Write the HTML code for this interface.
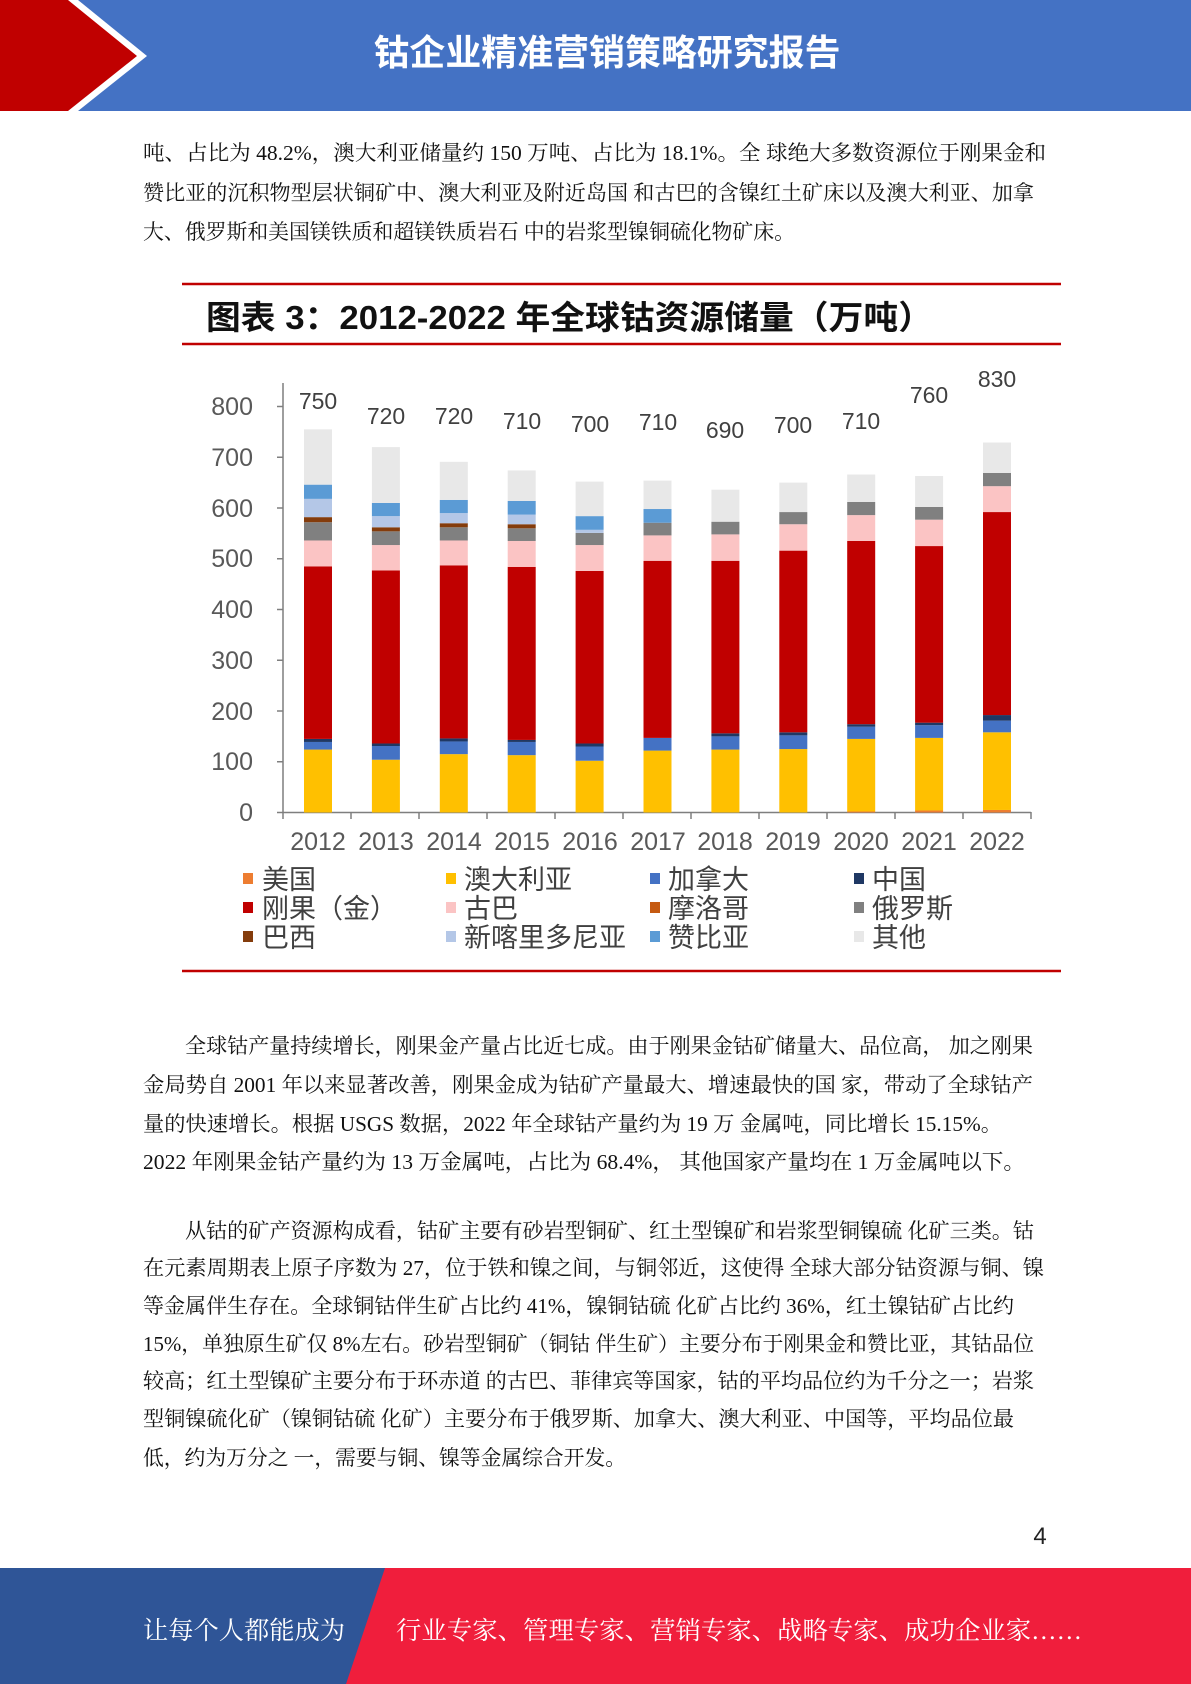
<!DOCTYPE html>
<html><head><meta charset="utf-8"><style>
html,body{margin:0;padding:0;background:#fff}
svg{display:block}
.b{font-family:"Liberation Serif","Noto Serif CJK SC",serif;font-size:21px;fill:#111}
.t{font-family:"Liberation Sans","Noto Sans CJK SC",sans-serif;font-size:25px;fill:#595959}
.l{font-family:"Liberation Sans","Noto Sans CJK SC",sans-serif;font-size:27px;fill:#404040}
.f{font-family:"Liberation Serif","Noto Serif CJK SC",serif;font-size:25px;fill:#fff}
</style></head><body>
<svg width="1191" height="1684" viewBox="0 0 1191 1684" xmlns="http://www.w3.org/2000/svg">
<!-- header -->
<rect x="0" y="0" width="1191" height="111" fill="#4472C4"/>
<polygon points="0,0 78,0 147,56 78,111 0,111" fill="#fff"/>
<polygon points="0,0 68,0 137,56 68,111 0,111" fill="#C00000"/>
<text x="607" y="65" text-anchor="middle" font-family="Liberation Sans, Noto Sans CJK SC, sans-serif" font-weight="bold" font-size="36" fill="#fff" textLength="467" lengthAdjust="spacingAndGlyphs">钴企业精准营销策略研究报告</text>
<!-- para 0 -->
<text class="b" x="143" y="160" textLength="903" lengthAdjust="spacingAndGlyphs">吨、占比为 48.2%，澳大利亚储量约 150 万吨、占比为 18.1%。全 球绝大多数资源位于刚果金和</text>
<text class="b" x="143" y="200" textLength="891" lengthAdjust="spacingAndGlyphs">赞比亚的沉积物型层状铜矿中、澳大利亚及附近岛国 和古巴的含镍红土矿床以及澳大利亚、加拿</text>
<text class="b" x="143" y="239" textLength="652" lengthAdjust="spacingAndGlyphs">大、俄罗斯和美国镁铁质和超镁铁质岩石 中的岩浆型镍铜硫化物矿床。</text>
<!-- chart frame -->
<line x1="182" y1="284" x2="1061" y2="284" stroke="#C00000" stroke-width="2.5"/>
<text x="206" y="329" font-family="Liberation Sans, Noto Sans CJK SC, sans-serif" font-weight="bold" font-size="33" fill="#111" textLength="727" lengthAdjust="spacingAndGlyphs">图表 3：2012-2022 年全球钴资源储量（万吨）</text>
<line x1="182" y1="344" x2="1061" y2="344" stroke="#C00000" stroke-width="2.5"/>
<line x1="182" y1="971" x2="1061" y2="971" stroke="#C00000" stroke-width="2.5"/>
<!-- axes -->
<g stroke="#7f7f7f" stroke-width="1.5">
<line x1="283" y1="383" x2="283" y2="813"/>
<line x1="283" y1="812.5" x2="1031" y2="812.5"/>
<line x1="277" y1="812.5" x2="283" y2="812.5"/><line x1="277" y1="761.75" x2="283" y2="761.75"/><line x1="277" y1="711" x2="283" y2="711"/><line x1="277" y1="660.25" x2="283" y2="660.25"/><line x1="277" y1="609.5" x2="283" y2="609.5"/><line x1="277" y1="558.75" x2="283" y2="558.75"/><line x1="277" y1="508" x2="283" y2="508"/><line x1="277" y1="457.25" x2="283" y2="457.25"/><line x1="277" y1="406.5" x2="283" y2="406.5"/>
<line x1="283" y1="812" x2="283" y2="819"/><line x1="351" y1="812" x2="351" y2="819"/><line x1="419" y1="812" x2="419" y2="819"/><line x1="487" y1="812" x2="487" y2="819"/><line x1="555" y1="812" x2="555" y2="819"/><line x1="623" y1="812" x2="623" y2="819"/><line x1="691" y1="812" x2="691" y2="819"/><line x1="759" y1="812" x2="759" y2="819"/><line x1="827" y1="812" x2="827" y2="819"/><line x1="895" y1="812" x2="895" y2="819"/><line x1="963" y1="812" x2="963" y2="819"/><line x1="1031" y1="812" x2="1031" y2="819"/>
</g>
<g class="t" text-anchor="end">
<text x="253" y="821">0</text><text x="253" y="770">100</text><text x="253" y="720">200</text><text x="253" y="669">300</text><text x="253" y="618">400</text><text x="253" y="567">500</text><text x="253" y="517">600</text><text x="253" y="466">700</text><text x="253" y="415">800</text>
</g>
<g class="t" text-anchor="middle">
<text x="318" y="850">2012</text><text x="386" y="850">2013</text><text x="454" y="850">2014</text><text x="522" y="850">2015</text><text x="590" y="850">2016</text><text x="658" y="850">2017</text><text x="725" y="850">2018</text><text x="793" y="850">2019</text><text x="861" y="850">2020</text><text x="929" y="850">2021</text><text x="997" y="850">2022</text>
</g>
<g class="t" text-anchor="middle" style="font-size:23px;fill:#404040">
<text x="318" y="409">750</text><text x="386" y="424">720</text><text x="454" y="424">720</text><text x="522" y="429">710</text><text x="590" y="432">700</text><text x="658" y="430">710</text><text x="725" y="438">690</text><text x="793" y="433">700</text><text x="861" y="429">710</text><text x="929" y="403">760</text><text x="997" y="387">830</text>
</g>
<!-- bars -->
<g transform="translate(0,812.5) scale(1,-0.5075)">
<g transform="translate(304,0)">
<rect y="0" height="124" width="28" fill="#FFC000"/><rect y="124" height="15" width="28" fill="#4472C4"/><rect y="139" height="6" width="28" fill="#1F3864"/><rect y="145" height="340" width="28" fill="#C00000"/><rect y="485" height="51" width="28" fill="#FBC4C4"/><rect y="536" height="36" width="28" fill="#808080"/><rect y="572" height="10" width="28" fill="#843C0C"/><rect y="582" height="36" width="28" fill="#B4C7E7"/><rect y="618" height="28" width="28" fill="#5B9BD5"/><rect y="646" height="109" width="28" fill="#E8E8E8"/>
</g>
<g transform="translate(371.9,0)">
<rect y="0" height="104" width="28" fill="#FFC000"/><rect y="104" height="27" width="28" fill="#4472C4"/><rect y="131" height="5" width="28" fill="#1F3864"/><rect y="136" height="341" width="28" fill="#C00000"/><rect y="477" height="50" width="28" fill="#FBC4C4"/><rect y="527" height="27" width="28" fill="#808080"/><rect y="554" height="8" width="28" fill="#843C0C"/><rect y="562" height="22" width="28" fill="#B4C7E7"/><rect y="584" height="26" width="28" fill="#5B9BD5"/><rect y="610" height="110" width="28" fill="#E8E8E8"/>
</g>
<g transform="translate(439.8,0)">
<rect y="0" height="115" width="28" fill="#FFC000"/><rect y="115" height="25" width="28" fill="#4472C4"/><rect y="140" height="6" width="28" fill="#1F3864"/><rect y="146" height="341" width="28" fill="#C00000"/><rect y="487" height="49" width="28" fill="#FBC4C4"/><rect y="536" height="26" width="28" fill="#808080"/><rect y="562" height="8" width="28" fill="#843C0C"/><rect y="570" height="20" width="28" fill="#B4C7E7"/><rect y="590" height="26" width="28" fill="#5B9BD5"/><rect y="616" height="75" width="28" fill="#E8E8E8"/>
</g>
<g transform="translate(507.7,0)">
<rect y="0" height="113" width="28" fill="#FFC000"/><rect y="113" height="26" width="28" fill="#4472C4"/><rect y="139" height="4" width="28" fill="#1F3864"/><rect y="143" height="341" width="28" fill="#C00000"/><rect y="484" height="51" width="28" fill="#FBC4C4"/><rect y="535" height="25" width="28" fill="#808080"/><rect y="560" height="8" width="28" fill="#843C0C"/><rect y="568" height="19" width="28" fill="#B4C7E7"/><rect y="587" height="27" width="28" fill="#5B9BD5"/><rect y="614" height="60" width="28" fill="#E8E8E8"/>
</g>
<g transform="translate(575.6,0)">
<rect y="0" height="102" width="28" fill="#FFC000"/><rect y="102" height="28" width="28" fill="#4472C4"/><rect y="130" height="6" width="28" fill="#1F3864"/><rect y="136" height="340" width="28" fill="#C00000"/><rect y="476" height="51" width="28" fill="#FBC4C4"/><rect y="527" height="24" width="28" fill="#808080"/><rect y="551" height="6" width="28" fill="#B4C7E7"/><rect y="557" height="27" width="28" fill="#5B9BD5"/><rect y="584" height="68" width="28" fill="#E8E8E8"/>
</g>
<g transform="translate(643.5,0)">
<rect y="0" height="122" width="28" fill="#FFC000"/><rect y="122" height="25" width="28" fill="#4472C4"/><rect y="147" height="349" width="28" fill="#C00000"/><rect y="496" height="50" width="28" fill="#FBC4C4"/><rect y="546" height="25" width="28" fill="#808080"/><rect y="571" height="27" width="28" fill="#5B9BD5"/><rect y="598" height="56" width="28" fill="#E8E8E8"/>
</g>
<g transform="translate(711.4,0)">
<rect y="0" height="124" width="28" fill="#FFC000"/><rect y="124" height="26" width="28" fill="#4472C4"/><rect y="150" height="6" width="28" fill="#1F3864"/><rect y="156" height="340" width="28" fill="#C00000"/><rect y="496" height="52" width="28" fill="#FBC4C4"/><rect y="548" height="25" width="28" fill="#808080"/><rect y="573" height="63" width="28" fill="#E8E8E8"/>
</g>
<g transform="translate(779.3,0)">
<rect y="0" height="125" width="28" fill="#FFC000"/><rect y="125" height="27" width="28" fill="#4472C4"/><rect y="152" height="6" width="28" fill="#1F3864"/><rect y="158" height="358" width="28" fill="#C00000"/><rect y="516" height="52" width="28" fill="#FBC4C4"/><rect y="568" height="24" width="28" fill="#808080"/><rect y="592" height="58" width="28" fill="#E8E8E8"/>
</g>
<g transform="translate(847.2,0)">
<rect y="0" height="2" width="28" fill="#ED7D31"/><rect y="2" height="143" width="28" fill="#FFC000"/><rect y="145" height="24" width="28" fill="#4472C4"/><rect y="169" height="5" width="28" fill="#1F3864"/><rect y="174" height="361" width="28" fill="#C00000"/><rect y="535" height="51" width="28" fill="#FBC4C4"/><rect y="586" height="26" width="28" fill="#808080"/><rect y="612" height="54" width="28" fill="#E8E8E8"/>
</g>
<g transform="translate(915.1,0)">
<rect y="0" height="4" width="28" fill="#ED7D31"/><rect y="4" height="143" width="28" fill="#FFC000"/><rect y="147" height="25" width="28" fill="#4472C4"/><rect y="172" height="5" width="28" fill="#1F3864"/><rect y="177" height="348" width="28" fill="#C00000"/><rect y="525" height="52" width="28" fill="#FBC4C4"/><rect y="577" height="25" width="28" fill="#808080"/><rect y="602" height="61" width="28" fill="#E8E8E8"/>
</g>
<g transform="translate(983,0)">
<rect y="0" height="5" width="28" fill="#ED7D31"/><rect y="5" height="153" width="28" fill="#FFC000"/><rect y="158" height="23" width="28" fill="#4472C4"/><rect y="181" height="11" width="28" fill="#1F3864"/><rect y="192" height="400" width="28" fill="#C00000"/><rect y="592" height="51" width="28" fill="#FBC4C4"/><rect y="643" height="26" width="28" fill="#808080"/><rect y="669" height="60" width="28" fill="#E8E8E8"/>
</g>
</g>
<!-- legend -->
<g>
<rect x="243" y="873" width="10" height="11" fill="#ED7D31"/><text class="l" x="262" y="889">美国</text>
<rect x="446" y="873" width="10" height="11" fill="#FFC000"/><text class="l" x="464" y="889">澳大利亚</text>
<rect x="650" y="873" width="10" height="11" fill="#4472C4"/><text class="l" x="668" y="889">加拿大</text>
<rect x="854" y="873" width="10" height="11" fill="#1F3864"/><text class="l" x="872" y="889">中国</text>
<rect x="243" y="902" width="10" height="11" fill="#C00000"/><text class="l" x="262" y="918">刚果（金）</text>
<rect x="446" y="902" width="10" height="11" fill="#FBC4C4"/><text class="l" x="464" y="918">古巴</text>
<rect x="650" y="902" width="10" height="11" fill="#C55A11"/><text class="l" x="668" y="918">摩洛哥</text>
<rect x="854" y="902" width="10" height="11" fill="#808080"/><text class="l" x="872" y="918">俄罗斯</text>
<rect x="243" y="931" width="10" height="11" fill="#843C0C"/><text class="l" x="262" y="947">巴西</text>
<rect x="446" y="931" width="10" height="11" fill="#B4C7E7"/><text class="l" x="464" y="947">新喀里多尼亚</text>
<rect x="650" y="931" width="10" height="11" fill="#5B9BD5"/><text class="l" x="668" y="947">赞比亚</text>
<rect x="854" y="931" width="10" height="11" fill="#E8E8E8"/><text class="l" x="872" y="947">其他</text>
</g>
<!-- para 1 -->
<text class="b" x="185" y="1053" textLength="848" lengthAdjust="spacingAndGlyphs">全球钴产量持续增长，刚果金产量占比近七成。由于刚果金钴矿储量大、品位高， 加之刚果</text>
<text class="b" x="143" y="1092" textLength="890" lengthAdjust="spacingAndGlyphs">金局势自 2001 年以来显著改善，刚果金成为钴矿产量最大、增速最快的国 家，带动了全球钴产</text>
<text class="b" x="143" y="1131" textLength="859" lengthAdjust="spacingAndGlyphs">量的快速增长。根据 USGS 数据，2022 年全球钴产量约为 19 万 金属吨，同比增长 15.15%。</text>
<text class="b" x="143" y="1169" textLength="882" lengthAdjust="spacingAndGlyphs">2022 年刚果金钴产量约为 13 万金属吨，占比为 68.4%， 其他国家产量均在 1 万金属吨以下。</text>
<!-- para 2 -->
<text class="b" x="185" y="1238" textLength="849" lengthAdjust="spacingAndGlyphs">从钴的矿产资源构成看，钴矿主要有砂岩型铜矿、红土型镍矿和岩浆型铜镍硫 化矿三类。钴</text>
<text class="b" x="143" y="1275" textLength="901" lengthAdjust="spacingAndGlyphs">在元素周期表上原子序数为 27，位于铁和镍之间，与铜邻近，这使得 全球大部分钴资源与铜、镍</text>
<text class="b" x="143" y="1313" textLength="871" lengthAdjust="spacingAndGlyphs">等金属伴生存在。全球铜钴伴生矿占比约 41%，镍铜钴硫 化矿占比约 36%，红土镍钴矿占比约</text>
<text class="b" x="143" y="1351" textLength="891" lengthAdjust="spacingAndGlyphs">15%，单独原生矿仅 8%左右。砂岩型铜矿（铜钴 伴生矿）主要分布于刚果金和赞比亚，其钴品位</text>
<text class="b" x="143" y="1388" textLength="891" lengthAdjust="spacingAndGlyphs">较高；红土型镍矿主要分布于环赤道 的古巴、菲律宾等国家，钴的平均品位约为千分之一；岩浆</text>
<text class="b" x="143" y="1426" textLength="871" lengthAdjust="spacingAndGlyphs">型铜镍硫化矿（镍铜钴硫 化矿）主要分布于俄罗斯、加拿大、澳大利亚、中国等，平均品位最</text>
<text class="b" x="143" y="1465" textLength="483" lengthAdjust="spacingAndGlyphs">低，约为万分之 一，需要与铜、镍等金属综合开发。</text>
<!-- page number -->
<text x="1040" y="1544" text-anchor="middle" font-family="Liberation Sans, sans-serif" font-size="24" fill="#222">4</text>
<!-- footer -->
<rect x="0" y="1568" width="1191" height="116" fill="#2F5597"/>
<polygon points="385,1568 1191,1568 1191,1684 346,1684" fill="#F01E3C"/>
<text class="f" x="143" y="1639" textLength="202" lengthAdjust="spacingAndGlyphs">让每个人都能成为</text>
<text class="f" x="396" y="1639" textLength="686" lengthAdjust="spacingAndGlyphs">行业专家、管理专家、营销专家、战略专家、成功企业家……</text>
</svg>
</body></html>
